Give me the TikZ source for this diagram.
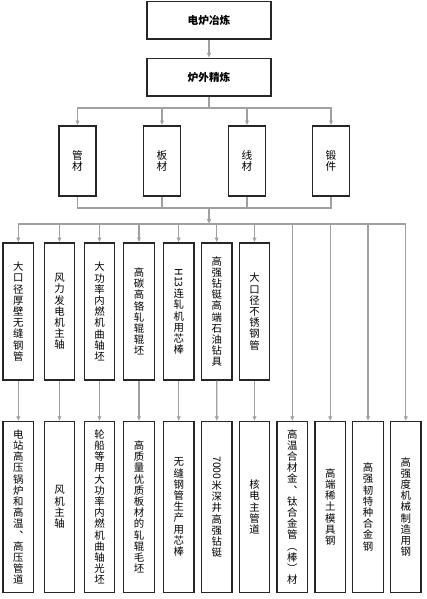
\documentclass[tikz,border=0pt]{standalone}
\usepackage{fontspec}
\usepackage{graphicx}
\newfontfamily\cjk{Noto Sans CJK SC}
\usetikzlibrary{positioning}
\usetikzlibrary{arrows.meta}
\definecolor{linegray}{RGB}{160,160,160}
\tikzset{
    stage/.style = {rectangle,draw=black!85,line width=1pt,minimum width=93pt,minimum height=28.1pt,
        font=\cjk\bfseries\fontsize{8pt}{9pt}\selectfont},
    form/.style = {rectangle,draw=black!85,line width=1pt,minimum width=27.75pt,minimum height=52.5pt,
        inner sep=0pt,align=center,font=\cjk\fontsize{8pt}{8.8pt}\selectfont},
    product/.style = {rectangle,draw=black!85,line width=1pt,minimum width=22.9pt,minimum height=102.75pt,
        inner sep=0pt,align=center,font=\cjk\fontsize{7.8pt}{8.4pt}\selectfont},
    use/.style = {product,minimum height=127.9pt}}

\begin{document}
\begin{tikzpicture}[x=0.75pt,y=-0.75pt,on grid,
    link/.style = {draw=linegray,line width=0.9pt},
    flow/.style = {link,-{Latex[length=3.6pt,width=3.4pt]},color=linegray}
    ]
    \useasboundingbox (0,0) rectangle (426,599);
    % melting and refining
    \node[stage] (melt) at (209,20.3) {电炉冶炼};
    \node[stage] (refine) [below = 42.75pt of melt] {炉外精炼};
    % material forms
    \node[form] (pipe) at (77.5,161) {管\\材};
    \node[form] (plate) at (162,161) {板\\材};
    \node[form] (wire) at (247,161) {线\\材};
    \node[form] (forge) at (331,161) {锻\\件};
    % products
    \node[product] (a1) at (18.3,311.5) {大\\口\\径\\厚\\壁\\无\\缝\\钢\\管};
    \node[product] (a2) at (59.5,311.5) {风\\力\\发\\电\\机\\主\\轴};
    \node[product] (a3) at (99.5,311.5) {大\\功\\率\\内\\燃\\机\\曲\\轴\\坯};
    \node[product] (a4) at (139,311.5) {高\\碳\\高\\铬\\轧\\辊\\辊\\坯};
    \node[product] (a5) at (178.7,311.5) {\rotatebox{-90}{H13}\\连\\轧\\机\\用\\芯\\棒};
    \node[product] (a6) at (216.7,311.5) {高\\强\\钻\\铤\\高\\端\\石\\油\\钻\\具};
    \node[product] (a7) at (254.5,311.5) {大\\口\\径\\不\\锈\\钢\\管};
    % applications
    \node[use] (b1) at (18.3,507) {电\\站\\高\\压\\锅\\炉\\和\\高\\温\\︑\\高\\压\\管\\道};
    \node[use] (b2) at (59.5,507) {风\\机\\主\\轴};
    \node[use] (b3) at (99.5,507) {轮\\船\\等\\用\\大\\功\\率\\内\\燃\\机\\曲\\轴\\光\\坯};
    \node[use] (b4) at (139,507) {高\\质\\量\\优\\质\\板\\材\\的\\轧\\辊\\毛\\坯};
    \node[use] (b5) at (178.7,507) {无\\缝\\钢\\管\\生\\产\\用\\芯\\棒};
    \node[use] (b6) at (216.8,507) {\rotatebox{-90}{7000}\\米\\深\\井\\高\\强\\钻\\铤};
    \node[use] (b7) at (254.5,507) {核\\电\\主\\管\\道};
    \node[use] (b8) at (292.3,507) {高\\温\\合\\材\\金\\︑\\钛\\合\\金\\管\\︵\\棒\\︶\\材};
    \node[use] (b9) at (330.2,507) {高\\端\\稀\\土\\模\\具\\钢};
    \node[use] (b10) at (368,507) {高\\强\\韧\\特\\种\\合\\金\\钢};
    \node[use] (b11) at (405.8,507) {高\\强\\度\\机\\械\\制\\造\\用\\钢};
    % connectors
    \coordinate (bus1) at (209,108);
    \coordinate (bus2) at (209,208);
    \coordinate (bus3) at (209,224);
    \draw[flow] (melt) -- (refine);
    \draw[link] (refine) -- (bus1);
    \draw[flow] (bus1) -| (pipe.north);
    \draw[flow] (bus1) -| (plate.north);
    \draw[flow] (bus1) -| (wire.north);
    \draw[flow] (bus1) -| (forge.north);
    \draw[link] (pipe.south) |- (bus2);
    \draw[link] (plate.south) |- (bus2);
    \draw[link] (wire.south) |- (bus2);
    \draw[link] (forge.south) |- (bus2);
    \draw[flow] (bus2) -- (bus3);
    \draw[flow] (bus3) -| (a1.north);
    \draw[flow] (bus3) -| (a2.north);
    \draw[flow] (bus3) -| (a3.north);
    \draw[flow] (bus3) -| (a4.north);
    \draw[flow] (bus3) -| (a5.north);
    \draw[flow] (bus3) -| (a6.north);
    \draw[flow] (bus3) -| (a7.north);
    \draw[flow] (bus3) -| (b8.north);
    \draw[flow] (bus3) -| (b9.north);
    \draw[flow] (bus3) -| (b10.north);
    \draw[flow] (bus3) -| (b11.north);
    \draw[flow] (a1) -- (b1);
    \draw[flow] (a2) -- (b2);
    \draw[flow] (a3) -- (b3);
    \draw[flow] (a4) -- (b4);
    \draw[flow] (a5) -- (b5);
    \draw[flow] (a6) -- (b6);
    \draw[flow] (a7) -- (b7);
\end{tikzpicture}
\end{document}
